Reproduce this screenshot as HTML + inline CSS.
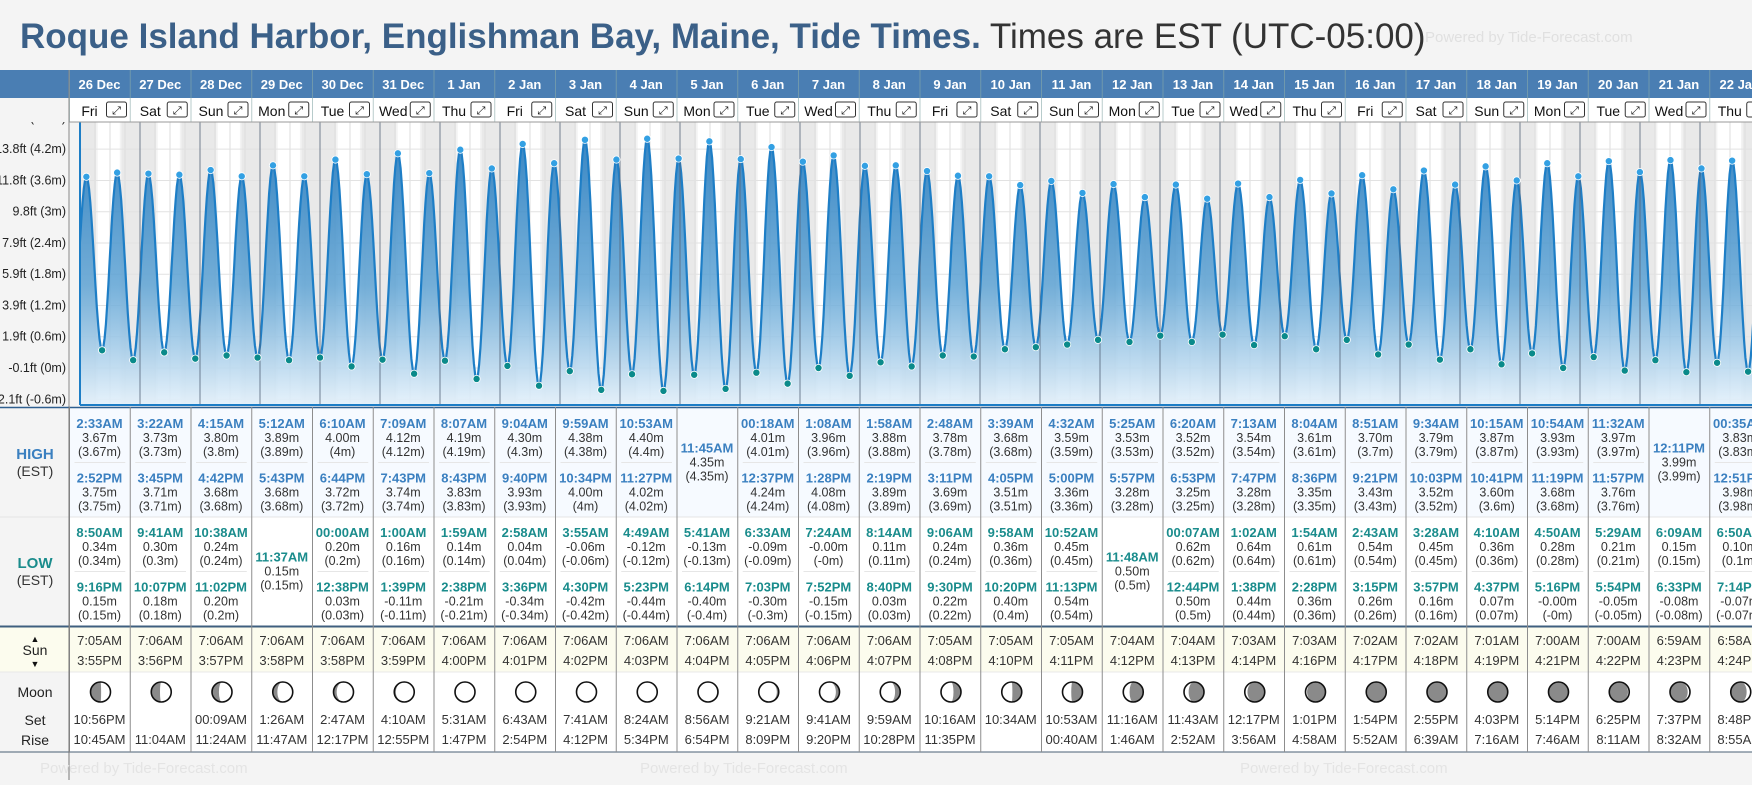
<!DOCTYPE html>
<html><head><meta charset="utf-8">
<style>
html,body{margin:0;padding:0;background:#f4f4f4;}
body{width:1752px;height:780px;overflow:hidden;position:relative;font-family:"Liberation Sans",sans-serif;}
svg text{font-family:"Liberation Sans",sans-serif;}
</style></head>
<body>
<svg id="main" width="1752" height="780" viewBox="0 0 1752 780" xmlns="http://www.w3.org/2000/svg">
<defs>
<linearGradient id="tideFill" x1="0" y1="0" x2="0" y2="1">
<stop offset="0" stop-color="#2f80c0" stop-opacity="0.95"/>
<stop offset="0.55" stop-color="#5ea3d4" stop-opacity="0.85"/>
<stop offset="1" stop-color="#e4f1fb" stop-opacity="0.9"/>
</linearGradient>
<clipPath id="plotClip"><rect x="80" y="122" width="1672" height="283"/></clipPath>
</defs>
<rect x="0" y="0" width="1752" height="780" fill="#f4f4f4"/>
<text x="20" y="48" font-size="35" font-weight="bold" fill="#3b6088">Roque Island Harbor, Englishman Bay, Maine, Tide Times.<tspan font-weight="normal" fill="#333"> Times are EST (UTC-05:00)</tspan></text>
<text x="1425" y="42" font-size="15" fill="#e0e0e0">Powered by Tide-Forecast.com</text>
<g id="g-plot"></g>
<g id="g-header"></g>
<g id="g-table"></g>
</svg>
<script>
const days = ["26 Dec","27 Dec","28 Dec","29 Dec","30 Dec","31 Dec","1 Jan","2 Jan","3 Jan","4 Jan","5 Jan","6 Jan","7 Jan","8 Jan","9 Jan","10 Jan","11 Jan","12 Jan","13 Jan","14 Jan","15 Jan","16 Jan","17 Jan","18 Jan","19 Jan","20 Jan","21 Jan","22 Jan"];
const weekdays = ["Fri","Sat","Sun","Mon","Tue","Wed","Thu","Fri","Sat","Sun","Mon","Tue","Wed","Thu","Fri","Sat","Sun","Mon","Tue","Wed","Thu","Fri","Sat","Sun","Mon","Tue","Wed","Thu"];
const highTimes = [["2:33AM","2:52PM"],["3:22AM","3:45PM"],["4:15AM","4:42PM"],["5:12AM","5:43PM"],["6:10AM","6:44PM"],["7:09AM","7:43PM"],["8:07AM","8:43PM"],["9:04AM","9:40PM"],["9:59AM","10:34PM"],["10:53AM","11:27PM"],["11:45AM"],["00:18AM","12:37PM"],["1:08AM","1:28PM"],["1:58AM","2:19PM"],["2:48AM","3:11PM"],["3:39AM","4:05PM"],["4:32AM","5:00PM"],["5:25AM","5:57PM"],["6:20AM","6:53PM"],["7:13AM","7:47PM"],["8:04AM","8:36PM"],["8:51AM","9:21PM"],["9:34AM","10:03PM"],["10:15AM","10:41PM"],["10:54AM","11:19PM"],["11:32AM","11:57PM"],["12:11PM"],["00:35AM","12:51PM"]];
const highHeights = [[3.67,3.75],[3.73,3.71],[3.80,3.68],[3.89,3.68],[4.00,3.72],[4.12,3.74],[4.19,3.83],[4.30,3.93],[4.38,4.00],[4.40,4.02],[4.35],[4.01,4.24],[3.96,4.08],[3.88,3.89],[3.78,3.69],[3.68,3.51],[3.59,3.36],[3.53,3.28],[3.52,3.25],[3.54,3.28],[3.61,3.35],[3.70,3.43],[3.79,3.52],[3.87,3.60],[3.93,3.68],[3.97,3.76],[3.99],[3.83,3.98]];
const lowTimes = [["8:50AM","9:16PM"],["9:41AM","10:07PM"],["10:38AM","11:02PM"],["11:37AM"],["00:00AM","12:38PM"],["1:00AM","1:39PM"],["1:59AM","2:38PM"],["2:58AM","3:36PM"],["3:55AM","4:30PM"],["4:49AM","5:23PM"],["5:41AM","6:14PM"],["6:33AM","7:03PM"],["7:24AM","7:52PM"],["8:14AM","8:40PM"],["9:06AM","9:30PM"],["9:58AM","10:20PM"],["10:52AM","11:13PM"],["11:48AM"],["00:07AM","12:44PM"],["1:02AM","1:38PM"],["1:54AM","2:28PM"],["2:43AM","3:15PM"],["3:28AM","3:57PM"],["4:10AM","4:37PM"],["4:50AM","5:16PM"],["5:29AM","5:54PM"],["6:09AM","6:33PM"],["6:50AM","7:14PM"]];
const lowHeights = [[0.34,0.15],[0.30,0.18],[0.24,0.20],[0.15],[0.20,0.03],[0.16,-0.11],[0.14,-0.21],[0.04,-0.34],[-0.06,-0.42],[-0.12,-0.44],[-0.13,-0.40],[-0.09,-0.30],[-0.00,-0.15],[0.11,0.03],[0.24,0.22],[0.36,0.40],[0.45,0.54],[0.50],[0.62,0.50],[0.64,0.44],[0.61,0.36],[0.54,0.26],[0.45,0.16],[0.36,0.07],[0.28,-0.00],[0.21,-0.05],[0.15,-0.08],[0.10,-0.07]];
const sunRise = ["7:05AM","7:06AM","7:06AM","7:06AM","7:06AM","7:06AM","7:06AM","7:06AM","7:06AM","7:06AM","7:06AM","7:06AM","7:06AM","7:06AM","7:05AM","7:05AM","7:05AM","7:04AM","7:04AM","7:03AM","7:03AM","7:02AM","7:02AM","7:01AM","7:00AM","7:00AM","6:59AM","6:58AM"];
const sunSet = ["3:55PM","3:56PM","3:57PM","3:58PM","3:58PM","3:59PM","4:00PM","4:01PM","4:02PM","4:03PM","4:04PM","4:05PM","4:06PM","4:07PM","4:08PM","4:10PM","4:11PM","4:12PM","4:13PM","4:14PM","4:16PM","4:17PM","4:18PM","4:19PM","4:21PM","4:22PM","4:23PM","4:24PM"];
const moonSet = ["10:56PM","","00:09AM","1:26AM","2:47AM","4:10AM","5:31AM","6:43AM","7:41AM","8:24AM","8:56AM","9:21AM","9:41AM","9:59AM","10:16AM","10:34AM","10:53AM","11:16AM","11:43AM","12:17PM","1:01PM","1:54PM","2:55PM","4:03PM","5:14PM","6:25PM","7:37PM","8:48PM"];
const moonRise = ["10:45AM","11:04AM","11:24AM","11:47AM","12:17PM","12:55PM","1:47PM","2:54PM","4:12PM","5:34PM","6:54PM","8:09PM","9:20PM","10:28PM","11:35PM","","00:40AM","1:46AM","2:52AM","3:56AM","4:58AM","5:52AM","6:39AM","7:16AM","7:46AM","8:11AM","8:32AM","8:55AM"];
const moonPhase = [0.24,0.27,0.30,0.34,0.37,0.41,0.44,0.47,0.50,0.54,0.57,0.60,0.64,0.67,0.71,0.74,0.77,0.81,0.84,0.88,0.91,0.94,0.98,0.01,0.05,0.08,0.11,0.15];
const yTicksM = [4.8,4.2,3.6,3.0,2.4,1.8,1.2,0.6,0,-0.6];
const yTickLabels = ["15.7ft (4.8m)","13.8ft (4.2m)","11.8ft (3.6m)","9.8ft (3m)","7.9ft (2.4m)","5.9ft (1.8m)","3.9ft (1.2m)","1.9ft (0.6m)","-0.1ft (0m)","-2.1ft (-0.6m)"];

const NS="http://www.w3.org/2000/svg";
function mk(tag,attrs,parent,txt){const e=document.createElementNS(NS,tag);for(const k in attrs)e.setAttribute(k,attrs[k]);if(txt!==undefined)e.textContent=txt;parent.appendChild(e);return e;}
const PX0=80, DAYW=60, Y0=368, PXM=52.1, PLOT_TOP=122, PLOT_BOT=405;
function xScale(d,h){return PX0+d*DAYW+h*DAYW/24;}
function yScale(m){return Y0-m*PXM;}
function parseT(s){const m=s.match(/(\d+):(\d+)(AM|PM)/);let h=+m[1]%12;if(m[3]==="PM")h+=12;return h+(+m[2])/60;}
function fmtM(v){if(Object.is(v,-0))return "-0.00m";return v.toFixed(2)+"m";}
function fmtP(v){if(Object.is(v,-0))return "(-0m)";return "("+String(+v.toFixed(2))+"m)";}
const COLX0=69.5, COLW=60.75;
function colX(i){return COLX0+i*COLW;}

const gH=document.getElementById('g-header'), gP=document.getElementById('g-plot'), gT=document.getElementById('g-table');

// plot background
mk('rect',{x:0,y:122,width:80,height:285,fill:'#f4f4f4'},gP);
days.forEach((d,i)=>{
  const x=xScale(i,0);
  const rise=parseT(sunRise[i]), set=parseT(sunSet[i]);
  mk('rect',{x:x,y:PLOT_TOP,width:DAYW,height:PLOT_BOT-PLOT_TOP,fill:'#e9e9e9'},gP);
  mk('rect',{x:xScale(i,rise-0.7),y:PLOT_TOP,width:(set-rise+1.4)*DAYW/24,height:PLOT_BOT-PLOT_TOP,fill:'#f3f3f3'},gP);
  const day=mk('rect',{x:xScale(i,rise),y:PLOT_TOP,width:(set-rise)*DAYW/24,height:PLOT_BOT-PLOT_TOP,fill:'#fff'},gP);
  
  [6,12,18].forEach(h=>mk('line',{x1:xScale(i,h),y1:PLOT_TOP,x2:xScale(i,h),y2:PLOT_BOT,stroke:'#ddd','stroke-width':1},gP));
});
yTicksM.forEach((m,k)=>{
  mk('line',{x1:PX0,y1:yScale(m),x2:1752,y2:yScale(m),stroke:'#e2e2e2','stroke-width':1},gP);
  const t=mk('text',{x:66,y:yScale(m)+4,'text-anchor':'end','font-size':12.5,fill:'#222'},gP,yTickLabels[k]);
  
});

// events
const ev=[];
days.forEach((d,i)=>{
  highTimes[i].forEach((t,k)=>ev.push({d:i,h:parseT(t),v:highHeights[i][k],hi:true}));
  lowTimes[i].forEach((t,k)=>ev.push({d:i,h:parseT(t),v:lowHeights[i][k],hi:false}));
});
ev.sort((a,b)=>(a.d*24+a.h)-(b.d*24+b.h));
const pre={d:ev[0].d,h:ev[0].h-6.2,v:0.25}, post={d:ev[ev.length-1].d,h:ev[ev.length-1].h+6.2,v:3.9};
const all=[pre,...ev,post];
let pts=[];
for(let k=0;k<all.length-1;k++){
  const a=all[k],b=all[k+1];
  const xa=xScale(a.d,a.h), xb=xScale(b.d,b.h);
  for(let s=0;s<=12;s++){const f=s/12;const v=a.v+(b.v-a.v)*(1-Math.cos(Math.PI*f))/2;pts.push([xa+(xb-xa)*f,yScale(v)]);}
}
const gc=mk('g',{'clip-path':'url(#plotClip)'},gP);
let dA='M'+pts[0][0]+','+PLOT_BOT+' '+pts.map(p=>'L'+p[0].toFixed(1)+','+p[1].toFixed(1)).join(' ')+' L'+pts[pts.length-1][0]+','+PLOT_BOT+' Z';
let area=mk('path',{d:dA,fill:'url(#tideFill)'},gc);

let line=mk('path',{d:'M'+pts.map(p=>p[0].toFixed(1)+','+p[1].toFixed(1)).join(' L'),fill:'none',stroke:'#1e7ec6','stroke-width':2.2},gc);

days.forEach((d,i)=>mk('line',{x1:xScale(i,0),y1:PLOT_TOP,x2:xScale(i,0),y2:PLOT_BOT,stroke:'#55657a','stroke-width':1,opacity:0.8},gc));
ev.forEach(e=>{
  const c=mk('circle',{cx:xScale(e.d,e.h),cy:yScale(e.v),r:3.6,fill:e.hi?'#33a0e3':'#0a8a8a',stroke:'#fff','stroke-width':0.8},gc);
  
  
});
mk('line',{x1:PX0,y1:PLOT_TOP,x2:PX0,y2:PLOT_BOT,stroke:'#1e7ec6','stroke-width':2},gP);
mk('line',{x1:PX0,y1:PLOT_BOT,x2:1752,y2:PLOT_BOT,stroke:'#1e7ec6','stroke-width':2},gP);

// header
let r=mk('rect',{x:0,y:70,width:1752,height:28,fill:'#4a7eb3'},gH);

mk('rect',{x:0,y:98,width:69,height:24,fill:'#f4f4f4'},gH);
r=mk('rect',{x:69,y:98,width:1683,height:24,fill:'#fff'},gH);

days.forEach((d,i)=>{
  const x=colX(i);
  const t=mk('text',{x:x+30,y:89,'text-anchor':'middle','font-size':13,'font-weight':'bold',fill:'#fff'},gH,d);
  
  const w=mk('text',{x:x+20,y:116,'text-anchor':'middle','font-size':14,fill:'#111'},gH,weekdays[i]);
  
  const b=mk('g',{},gH);
  
  mk('rect',{x:x+37,y:102,width:20,height:15,rx:2,fill:'#fff',stroke:'#333','stroke-width':1},b);
  mk('text',{x:x+47,y:114,'text-anchor':'middle','font-size':11,fill:'#111'},b,'⤢');
  mk('line',{x1:x,y1:70,x2:x,y2:122,stroke:'#8aa',"stroke-width":1,opacity:0.6},gH);
});
mk('line',{x1:69,y1:70,x2:69,y2:407,stroke:'#888','stroke-width':1},gH);
mk('line',{x1:69,y1:122,x2:1752,y2:122,stroke:'#999','stroke-width':1},gH);

// table
mk('rect',{x:0,y:407,width:1752,height:373,fill:'#f4f4f4'},gT);
mk('rect',{x:69,y:407,width:1683,height:110,fill:'#f6faff'},gT);
mk('rect',{x:69,y:517,width:1683,height:109,fill:'#fff'},gT);
mk('rect',{x:0,y:627,width:1752,height:45,fill:'#fcfcee'},gT);
mk('rect',{x:69,y:672,width:1683,height:80,fill:'#fff'},gT);
mk('line',{x1:0,y1:407.5,x2:1752,y2:407.5,stroke:'#2f5f8f','stroke-width':1.5},gT);
mk('line',{x1:0,y1:517,x2:1752,y2:517,stroke:'#e4e4e4','stroke-width':1},gT);
mk('line',{x1:0,y1:626.5,x2:1752,y2:626.5,stroke:'#3f5f7f','stroke-width':2},gT);
mk('line',{x1:0,y1:672,x2:1752,y2:672,stroke:'#e8e8e8','stroke-width':1},gT);
mk('line',{x1:0,y1:752,x2:1752,y2:752,stroke:'#4a5f75','stroke-width':1},gT);
function lbl(txt,x,y,sz,wt,col,name){const t=mk('text',{x:x,y:y,'text-anchor':'middle','font-size':sz,'font-weight':wt,fill:col},gT,txt);return t;}
lbl('HIGH',35,459,15,'bold','#3b80c0','high-row-label');lbl('(EST)',35,476,14,'normal','#333','high-tz-label');
lbl('LOW',35,568,15,'bold','#1a8c8c','low-row-label');lbl('(EST)',35,585,14,'normal','#333','low-tz-label');
lbl('▲',35,642,9,'normal','#111','sunrise-arrow');lbl('Sun',35,655,14,'normal','#222','sun-row-label');lbl('▼',35,667,9,'normal','#111','sunset-arrow');
lbl('Moon',35,697,14,'normal','#222','moon-row-label');lbl('Set',35,725,14,'normal','#222','moonset-label');lbl('Rise',35,745,14,'normal','#222','moonrise-label');

function block(times,vals,i,top,h,col,name){
  const cx=colX(i)+30;
  if(times.length===1){
    const c=top+h/2;
    lbl(times[0],cx,c-10,13,'bold',col,name+'-time');
    lbl(fmtM(vals[0]),cx,c+4,12.5,'normal','#333',name+'-height');
    lbl(fmtP(vals[0]),cx,c+18,12.5,'normal','#333',name+'-height-m');
  } else {
    [0,1].forEach(k=>{
      const b=top+k*(h/2);
      lbl(times[k],cx,b+20,13,'bold',col,name+'-time');
      lbl(fmtM(vals[k]),cx,b+34,12.5,'normal','#333',name+'-height');
      lbl(fmtP(vals[k]),cx,b+48,12.5,'normal','#333',name+'-height-m');
    });
    mk('line',{x1:colX(i)+5,y1:top+h/2,x2:colX(i)+COLW-5,y2:top+h/2,stroke:'#e6e6e6','stroke-width':1},gT);
  }
}
function moonIcon(cx,cy,p){
  const R=10, g=mk('g',{},gT);
  
  mk('circle',{cx:cx,cy:cy,r:R,fill:'#8a8a8a'},g);
  const rx=Math.abs(Math.cos(2*Math.PI*p))*R;
  let d;
  if(p<0.5){d=`M${cx},${cy-R} A${R},${R} 0 0 1 ${cx},${cy+R} A${rx},${R} 0 0 ${p<0.25?0:1} ${cx},${cy-R} Z`;}
  else{d=`M${cx},${cy-R} A${R},${R} 0 0 0 ${cx},${cy+R} A${rx},${R} 0 0 ${p>0.75?1:0} ${cx},${cy-R} Z`;}
  mk('path',{d:d,fill:'#fff'},g);
  mk('circle',{cx:cx,cy:cy,r:R,fill:'none',stroke:'#111','stroke-width':1.6},g);
}
days.forEach((d,i)=>{
  const cx=colX(i)+30;
  block(highTimes[i],highHeights[i],i,408,109,'#3b80c0','high-tide');
  block(lowTimes[i],lowHeights[i],i,517,109,'#1a8c8c','low-tide');
  lbl(sunRise[i],cx,645,13,'normal','#333','sunrise-time');
  lbl(sunSet[i],cx,665,13,'normal','#333','sunset-time');
  moonIcon(cx+1,692,moonPhase[i]);
  if(moonSet[i])lbl(moonSet[i],cx,724,13,'normal','#333','moonset-time');
  if(moonRise[i])lbl(moonRise[i],cx,744,13,'normal','#333','moonrise-time');
});
days.forEach((d,i)=>mk('line',{x1:colX(i),y1:407,x2:colX(i),y2:752,stroke:'#8d8d8d','stroke-width':1},gT));
mk('line',{x1:69,y1:407,x2:69,y2:780,stroke:'#777','stroke-width':1},gT);
[40,640,1240].forEach(x=>{const t=mk('text',{x:x,y:773,'font-size':15,fill:'#e4e4e4'},gT,'Powered by Tide-Forecast.com');});
</script>
</body></html>
